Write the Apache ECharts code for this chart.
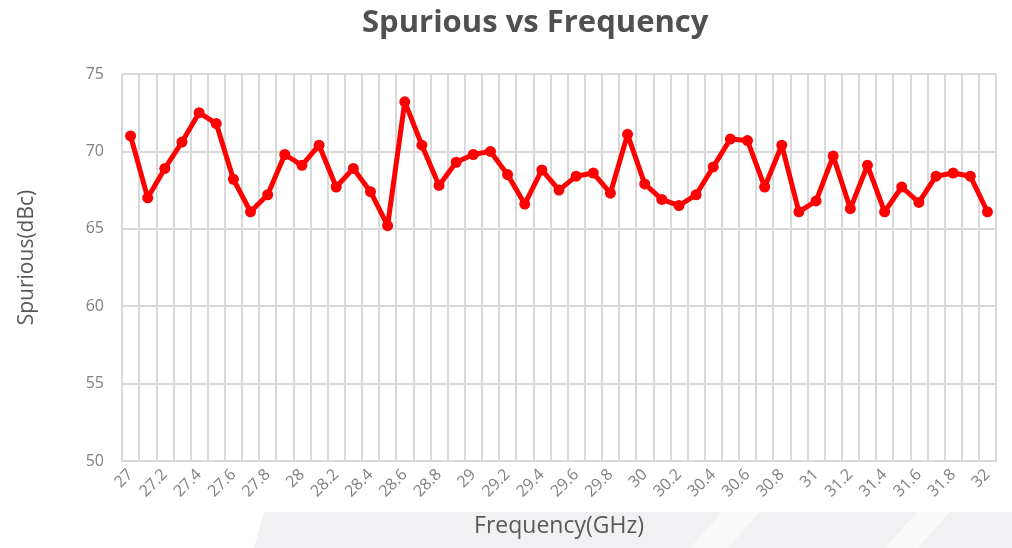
<!DOCTYPE html>
<html><head><meta charset="utf-8">
<script src="https://cdn.jsdelivr.net/npm/echarts@6/dist/echarts.min.js"></script>
<style>html,body{margin:0;padding:0;background:#fff}#c{width:1012px;height:548px}</style>
</head><body><div id="c"></div>
<script>
var categories = ['27','27.1','27.2','27.3','27.4','27.5','27.6','27.7','27.8','27.9',
  '28','28.1','28.2','28.3','28.4','28.5','28.6','28.7','28.8','28.9',
  '29','29.1','29.2','29.3','29.4','29.5','29.6','29.7','29.8','29.9',
  '30','30.1','30.2','30.3','30.4','30.5','30.6','30.7','30.8','30.9',
  '31','31.1','31.2','31.3','31.4','31.5','31.6','31.7','31.8','31.9','32'];
var spurious = [71.0,67.0,68.9,70.6,72.5,71.8,68.2,66.1,67.2,69.8,
  69.1,70.4,67.7,68.9,67.4,65.2,73.2,70.4,67.8,69.3,
  69.8,70.0,68.5,66.6,68.8,67.5,68.4,68.6,67.3,71.1,
  67.9,66.9,66.5,67.2,69.0,70.8,70.7,67.7,70.4,66.1,
  66.8,69.7,66.3,69.1,66.1,67.7,66.7,68.4,68.6,68.4,66.1];
var yTicks = [50,55,60,65,70,75];

var chart = echarts.init(document.getElementById('c'));
chart.setOption({
  backgroundColor:'#fff',
  animation:false,
  title:{text:'Spurious vs Frequency',left:357,top:3,
    textStyle:{fontFamily:'Open Sans',fontWeight:'bold',fontSize:31,color:'#505050'}},
  graphic:[
    {type:'polygon',z:-10,shape:{points:[[264,512],[1012,512],[1012,548],[254,548]]},style:{fill:'#f1f1f4'}},
    {type:'polygon',z:-9,shape:{points:[[690,548],[722,512],[760,512],[728,548]]},style:{fill:'#f9f9fa'}},
    {type:'polygon',z:-9,shape:{points:[[885,548],[917,512],[950,512],[918,548]]},style:{fill:'#f9f9fa'}}
  ],
  grid:{left:122,right:16,top:74,bottom:87},
  xAxis:{type:'category',data:categories,boundaryGap:true,
    name:'Frequency(GHz)',nameLocation:'middle',nameGap:54,
    nameTextStyle:{fontFamily:'Open Sans',fontSize:23,color:'#595959'},
    axisLine:{show:true,lineStyle:{color:'#d9d9d9',width:2}},
    axisTick:{show:false},
    axisLabel:{interval:1,rotate:45,margin:11,fontFamily:'Open Sans',fontSize:16,color:'#808080'},
    splitLine:{show:true,interval:0,lineStyle:{color:'#d9d9d9',width:2}}
  },
  yAxis:{type:'value',min:50,max:75,interval:5,
    name:'Spurious(dBc)',nameLocation:'middle',nameGap:84,
    nameTextStyle:{fontFamily:'Open Sans',fontSize:21,color:'#595959',padding:[0,0,0,20]},
    axisLine:{show:false},axisTick:{show:false},
    axisLabel:{margin:18,fontFamily:'Open Sans',fontSize:16,color:'#808080',
      formatter:function(v){return yTicks.indexOf(v)>=0?String(v):'';}},
    splitLine:{lineStyle:{color:'#d9d9d9',width:2}}
  },
  series:[{type:'line',data:spurious,symbol:'circle',symbolSize:11,
    lineStyle:{color:'#ff0000',width:5},itemStyle:{color:'#ff0000'}}]
});
</script></body></html>
